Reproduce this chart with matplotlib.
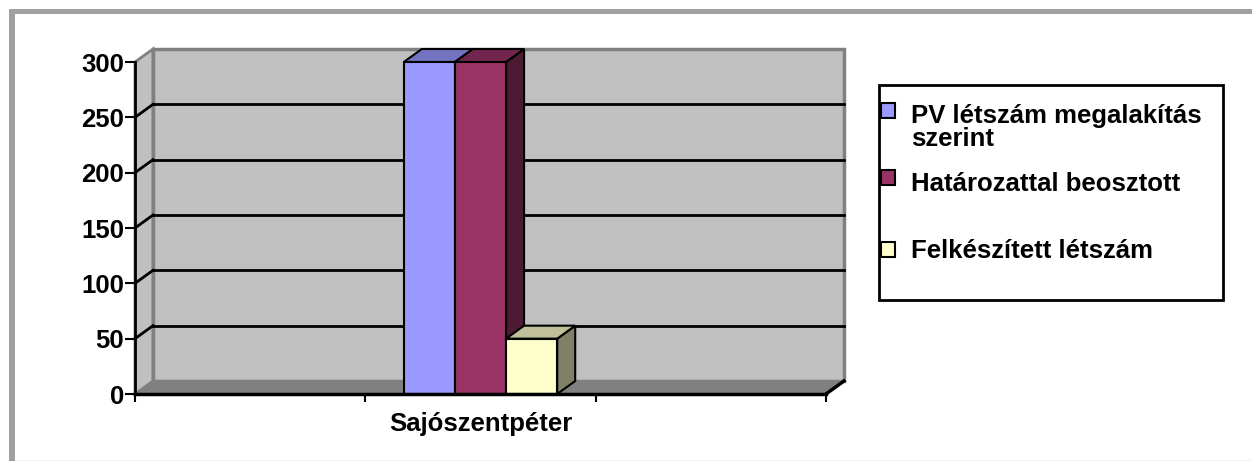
import matplotlib
matplotlib.use("Agg")
import matplotlib.pyplot as plt
from matplotlib.patches import Polygon, Rectangle
import numpy as np

# Adatok
category = "Sajószentpéter"
series_names = ["PV létszám megalakítás\nszerint", "Határozattal beosztott", "Felkészített létszám"]
values = [300, 300, 50]
y_ticks = [0, 50, 100, 150, 200, 250, 300]

front_colors = ["#9999FF", "#993366", "#FFFFCC"]
top_colors = ["#7373BF", "#73264D", "#BFBF99"]
side_colors = ["#5C5C99", "#4D1A33", "#808066"]

plt.rcParams["font.family"] = ["Liberation Sans", "DejaVu Sans"]
plt.rcParams["font.weight"] = "bold"
FS = 18.5

W, H = 1252, 461
fig = plt.figure(figsize=(W / 100, H / 100), dpi=100)
ax = fig.add_axes([135 / W, (H - 394) / H, 691 / W, 332 / H])
ax.set_xlim(0, 3)
ax.set_ylim(0, 300)
ax.patch.set_visible(False)

# 3D mélység: pixel eltolás átszámítva adat egységre
fig.canvas.draw()
inv = ax.transData.inverted()
p0 = ax.transData.transform((0, 0))
dx, dy = inv.transform(p0 + np.array([18, 13]))

# padló, oldalfal, hátfal
ax.add_patch(Polygon([(0, 0), (3, 0), (3 + dx, dy), (dx, dy)], closed=True,
                     facecolor="#808080", edgecolor="#808080", lw=1, clip_on=False, zorder=1))
ax.add_patch(Polygon([(0, 0), (dx, dy), (dx, 300 + dy), (0, 300)], closed=True,
                     facecolor="#C0C0C0", edgecolor="#808080", lw=2, clip_on=False, zorder=1))
ax.add_patch(Rectangle((dx, dy), 3, 300, facecolor="#C0C0C0", edgecolor="#808080",
                       lw=2.5, clip_on=False, zorder=1))
# rácsvonalak
for v in y_ticks[1:-1]:
    ax.plot([dx, 3 + dx], [v + dy, v + dy], color="black", lw=2, clip_on=False, zorder=2)
    ax.plot([0, dx], [v, v + dy], color="black", lw=2, clip_on=False, zorder=2)
ax.plot([3, 3 + dx], [0, dy], color="black", lw=2.5, clip_on=False, zorder=2)

# oszlopok
n = len(values)
bw = 0.222
xs = 1.5 + (np.arange(n) - (n - 1) / 2) * bw
for i, (x, v) in enumerate(zip(xs, values)):
    x0, x1 = x - bw / 2, x + bw / 2
    z = 3 + i * 3
    ax.add_patch(Polygon([(x1, 0), (x1 + dx, dy), (x1 + dx, v + dy), (x1, v)], closed=True,
                         facecolor=side_colors[i], edgecolor="black", lw=1.5,
                         clip_on=False, zorder=z))
    ax.add_patch(Polygon([(x0, v), (x1, v), (x1 + dx, v + dy), (x0 + dx, v + dy)], closed=True,
                         facecolor=top_colors[i], edgecolor="black", lw=1.5,
                         clip_on=False, zorder=z + 1))
    ax.bar(x, v, width=bw, color=front_colors[i], edgecolor="black", lw=1.5,
           clip_on=False, zorder=z + 2)

# tengelyek
for s in ["top", "right"]:
    ax.spines[s].set_visible(False)
ax.spines["left"].set_linewidth(2)
ax.spines["bottom"].set_linewidth(2.5)
ax.spines["left"].set_zorder(20)
ax.spines["bottom"].set_zorder(20)
ax.set_yticks(y_ticks)
ax.tick_params(axis="y", length=7, width=1.5, pad=1, labelsize=FS)
ax.set_xticks([0, 1, 2, 3])
ax.set_xticklabels([])
ax.set_xticks([1.5], [category], minor=True)
ax.tick_params(axis="x", which="major", length=6, width=1.5)
ax.tick_params(axis="x", which="minor", length=0, pad=13, labelsize=FS)
for lbl in ax.get_yticklabels() + ax.get_xticklabels(minor=True):
    lbl.set_fontweight("bold")

# jelmagyarázat
fig.patches.append(Rectangle((879 / W, (H - 300) / H), 344 / W, 215 / H, transform=fig.transFigure,
                             facecolor="white", edgecolor="black", lw=2))
marker_y = [110.5, 177.5, 249.5]
baseline_y = [146, 191, 258]
for i, name in enumerate(series_names):
    fig.patches.append(Rectangle((881 / W, (H - marker_y[i] - 7.5) / H), 14 / W, 15 / H,
                                 transform=fig.transFigure, facecolor=front_colors[i],
                                 edgecolor="black", lw=1.5))
    fig.text(911 / W, (H - baseline_y[i]) / H, name, fontsize=FS, fontweight="bold",
             va="baseline", ha="left", linespacing=0.95)

# külső keret
fig.patches.append(Rectangle((9 / W, 0), 6 / W, (H - 9) / H, transform=fig.transFigure,
                             facecolor="#A0A0A0", edgecolor="none"))
fig.patches.append(Rectangle((9 / W, (H - 14) / H), (W - 9) / W, 5 / H, transform=fig.transFigure,
                             facecolor="#A0A0A0", edgecolor="none"))
fig.lines.append(plt.Line2D([9 / W, 1], [0.5 / H, 0.5 / H], transform=fig.transFigure,
                            color="#808080", lw=1, ls=(0, (1, 1))))

fig.savefig("out.png", dpi=100)
